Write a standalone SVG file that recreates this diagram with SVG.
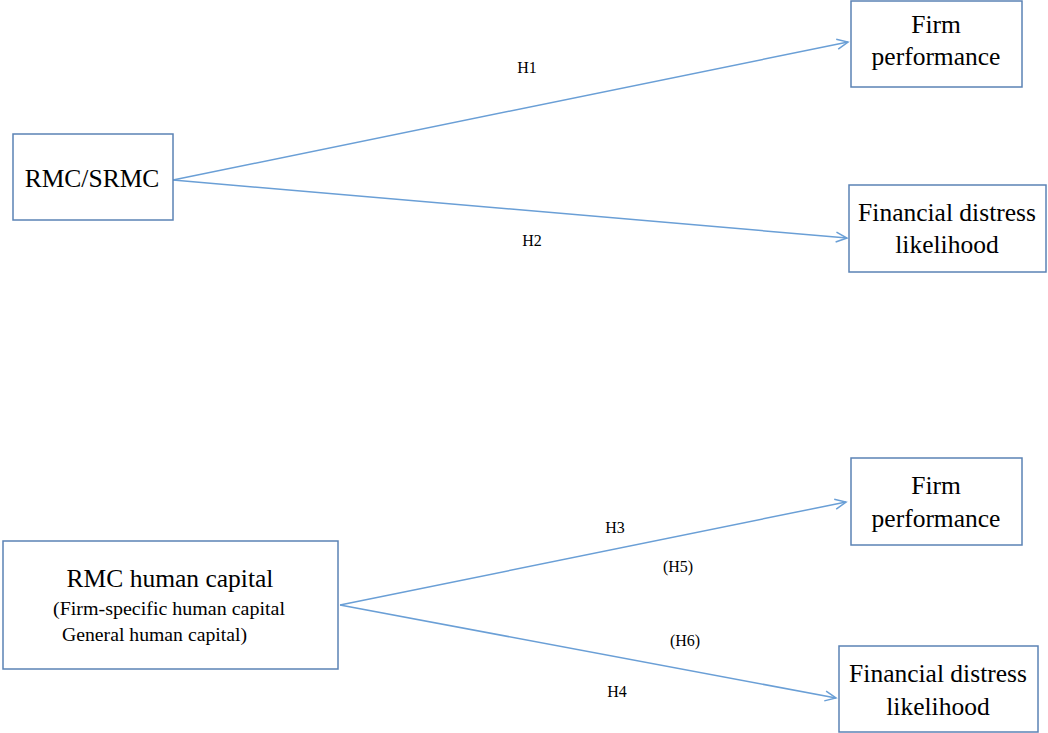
<svg xmlns="http://www.w3.org/2000/svg" width="1048" height="733" viewBox="0 0 1048 733">
<style>
.box{fill:#fff;stroke:#5b83b5;stroke-width:1.5}
text{font-family:'Liberation Serif','Times New Roman',serif;fill:#000}
.t{font-size:25.5px;text-anchor:middle}
.s{font-size:19px}
.l{font-size:16px;text-anchor:middle}
.c{stroke:#6a9fd6;stroke-width:1.5;fill:none}
</style>
<defs>
<marker id="arr" markerWidth="14" markerHeight="12" refX="12" refY="6" orient="auto" markerUnits="userSpaceOnUse">
<path d="M1,1 L12,6 L1,11" fill="none" stroke="#6a9fd6" stroke-width="1.5"/>
</marker>
</defs>
<rect width="1048" height="733" fill="#fff"/>
<g id="connectors">
<line class="c" x1="173" y1="180" x2="848" y2="42" marker-end="url(#arr)"/>
<line class="c" x1="173" y1="180" x2="847" y2="238" marker-end="url(#arr)"/>
<line class="c" x1="340" y1="605" x2="846" y2="502" marker-end="url(#arr)"/>
<line class="c" x1="340" y1="605" x2="836" y2="698" marker-end="url(#arr)"/>
<text class="l" x="527" y="73">H1</text>
<text class="l" x="532" y="246">H2</text>
<text class="l" x="615" y="533">H3</text>
<text class="l" x="678" y="572">(H5)</text>
<text class="l" x="685" y="646">(H6)</text>
<text class="l" x="617" y="697">H4</text>
</g>
<g id="rmc">
<rect class="box" x="13" y="134" width="160" height="86"/>
<text class="t" x="92" y="187">RMC/SRMC</text>
</g>
<g id="perf1">
<rect class="box" x="851" y="1" width="171" height="86"/>
<text class="t" x="936" y="33">Firm</text>
<text class="t" x="936" y="65">performance</text>
</g>
<g id="distress1">
<rect class="box" x="849" y="185" width="197" height="87"/>
<text class="t" x="947" y="221">Financial distress</text>
<text class="t" x="947" y="253">likelihood</text>
</g>
<g id="hc">
<rect class="box" x="3" y="541" width="335" height="128"/>
<text class="t" x="170" y="587">RMC human capital</text>
<text class="s" x="53" y="615" textLength="232" lengthAdjust="spacingAndGlyphs">(Firm-specific human capital</text>
<text class="s" x="62" y="641" textLength="185" lengthAdjust="spacingAndGlyphs">General human capital)</text>
</g>
<g id="perf2">
<rect class="box" x="851" y="458" width="171" height="87"/>
<text class="t" x="936" y="494">Firm</text>
<text class="t" x="936" y="527">performance</text>
</g>
<g id="distress2">
<rect class="box" x="839" y="646" width="199" height="86"/>
<text class="t" x="938" y="682">Financial distress</text>
<text class="t" x="938" y="715">likelihood</text>
</g>
</svg>
